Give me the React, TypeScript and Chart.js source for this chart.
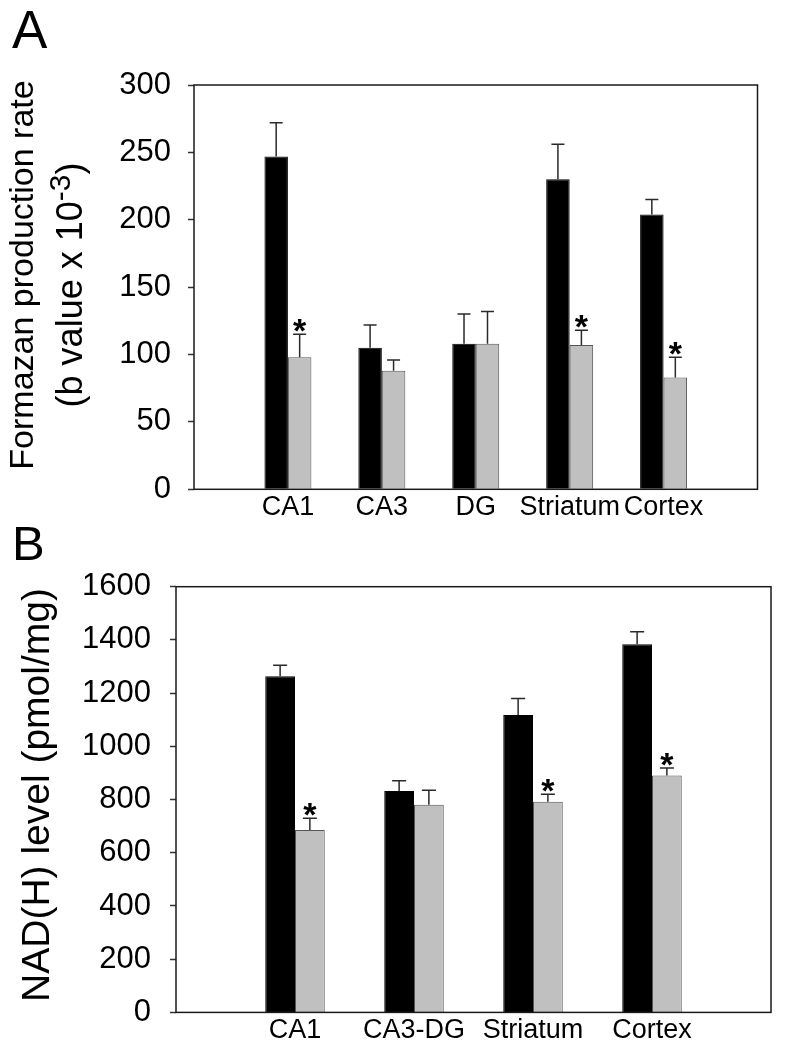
import React, { useEffect, useRef } from 'react';
import { Chart, registerables } from 'chart.js';

Chart.register(...registerables);

const FONT = '"Liberation Sans", Arial, Helvetica, sans-serif';

// ---------- Panel A data ----------
const categoriesA = ['CA1', 'CA3', 'DG', 'Striatum', 'Cortex'];
const controlA = [247, 105, 108, 230, 204];
const controlErrA = [25, 17, 22, 26, 11];
const treatedA = [98, 88, 108, 107, 83];
const treatedErrA = [17, 8, 24, 11, 15];
const sigA = [true, false, false, true, true];
const yTicksA = { max: 300, step: 50 };

// ---------- Panel B data ----------
const categoriesB = ['CA1', 'CA3-DG', 'Striatum', 'Cortex'];
const controlB = [1263, 832, 1118, 1384];
const controlErrB = [42, 39, 62, 47];
const treatedB = [686, 780, 792, 890];
const treatedErrB = [44, 55, 28, 29];
const sigB = [true, false, true, true];
const yTicksB = { max: 1600, step: 200 };

type Seg = { t: string; s: number; dy: number };

type PanelProps = {
  top: number;
  height: number;
  area: { left: number; top: number; right: number; bottom: number };
  categories: string[];
  control: number[];
  controlErr: number[];
  treated: number[];
  treatedErr: number[];
  sig: boolean[];
  yMax: number;
  yStep: number;
  tickFont: number;
  tickPad: number;
  xFont: number;
  xPad: number;
  letter: string;
  letterSize: number;
  letterBase: number;
  titleLines: { x: number; cy: number; segs: Seg[] }[];
  capHalf: number;
};

const W = 785;

function Panel(p: PanelProps) {
  const ref = useRef<HTMLCanvasElement | null>(null);
  useEffect(() => {
    const canvas = ref.current;
    if (!canvas) return;
    const n = p.categories.length;
    const overlay = {
      id: 'overlay',
      afterDatasetsDraw(chart: any) {
        const ctx = chart.ctx as CanvasRenderingContext2D;
        const y = chart.scales.y;
        const vals = [p.control, p.treated];
        const errs = [p.controlErr, p.treatedErr];
        ctx.save();
        ctx.strokeStyle = '#2a2a2a';
        ctx.lineWidth = 1.5;
        for (let di = 0; di < 2; di++) {
          const meta = chart.getDatasetMeta(di);
          meta.data.forEach((el: any, j: number) => {
            const topPx = y.getPixelForValue(vals[di][j] + errs[di][j]);
            ctx.beginPath();
            ctx.moveTo(el.x, el.y);
            ctx.lineTo(el.x, topPx);
            ctx.moveTo(el.x - p.capHalf, topPx);
            ctx.lineTo(el.x + p.capHalf, topPx);
            ctx.stroke();
            if (di === 1 && p.sig[j]) {
              const size = 34;
              ctx.fillStyle = '#000';
              ctx.font = `bold ${size}px ${FONT}`;
              ctx.textAlign = 'center';
              ctx.textBaseline = 'alphabetic';
              ctx.fillText('*', el.x, topPx - 11 + 0.55 * size);
            }
          });
        }
        const a = chart.chartArea;
        ctx.strokeStyle = '#1a1a1a';
        ctx.lineWidth = 1.5;
        ctx.strokeRect(a.left, a.top, a.right - a.left, a.bottom - a.top);
        ctx.restore();
      },
      afterDraw(chart: any) {
        const ctx = chart.ctx as CanvasRenderingContext2D;
        ctx.save();
        ctx.fillStyle = '#000';
        ctx.textBaseline = 'alphabetic';
        ctx.textAlign = 'left';
        ctx.font = `${p.letterSize}px ${FONT}`;
        ctx.fillText(p.letter, 12, p.letterBase);
        for (const line of p.titleLines) {
          ctx.save();
          ctx.translate(line.x, line.cy);
          ctx.rotate(-Math.PI / 2);
          let total = 0;
          for (const s of line.segs) {
            ctx.font = `${s.s}px ${FONT}`;
            total += ctx.measureText(s.t).width;
          }
          let cx = -total / 2;
          for (const s of line.segs) {
            ctx.font = `${s.s}px ${FONT}`;
            ctx.fillText(s.t, cx, s.dy);
            cx += ctx.measureText(s.t).width;
          }
          ctx.restore();
        }
        ctx.restore();
      },
    };

    const chart = new Chart(canvas, {
      type: 'bar',
      data: {
        datasets: [
          {
            label: 'Control',
            data: p.control.map((v, i) => ({ x: i + 1, y: v })),
            backgroundColor: '#000000',
            borderColor: '#000000',
            borderWidth: 1,
          },
          {
            label: 'Treated',
            data: p.treated.map((v, i) => ({ x: i + 1, y: v })),
            backgroundColor: '#c0c0c0',
            borderColor: '#555555',
            borderWidth: 1,
          },
        ],
      },
      options: {
        responsive: false,
        animation: false,
        events: [],
        layout: {
          padding: { left: 0, top: p.area.top, right: W - p.area.right, bottom: 0 },
        },
        plugins: { legend: { display: false }, tooltip: { enabled: false } },
        datasets: { bar: { categoryPercentage: 0.5, barPercentage: 1.0 } },
        scales: {
          x: {
            type: 'linear',
            min: 0,
            max: n + 1,
            offset: false,
            grid: { display: false, drawTicks: false },
            border: { display: false },
            afterBuildTicks: (scale: any) => {
              scale.ticks = p.categories.map((_, i) => ({ value: i + 1 }));
            },
            afterFit: (scale: any) => {
              scale.height = p.height - p.area.bottom;
            },
            ticks: {
              autoSkip: false,
              maxRotation: 0,
              padding: p.xPad,
              color: '#000',
              font: { family: FONT, size: p.xFont },
              callback: (v: any) => p.categories[Math.round(Number(v)) - 1] ?? '',
            },
          },
          y: {
            type: 'linear',
            min: 0,
            max: p.yMax,
            grid: {
              display: true,
              drawOnChartArea: false,
              drawTicks: true,
              tickLength: 6,
              tickColor: '#333',
              tickWidth: 1.5,
            },
            border: { display: false },
            afterFit: (scale: any) => {
              scale.width = p.area.left;
            },
            ticks: {
              stepSize: p.yStep,
              padding: p.tickPad,
              color: '#000',
              font: { family: FONT, size: p.tickFont },
              callback: (v: any) => String(v),
            },
          },
        },
      },
      plugins: [overlay],
    } as any);
    return () => chart.destroy();
  }, []);
  return (
    <canvas
      ref={ref}
      width={W}
      height={p.height}
      style={{ position: 'absolute', left: 0, top: p.top, width: W, height: p.height, display: 'block' }}
    />
  );
}

export default function App() {
  return (
    <div style={{ position: 'absolute', left: 0, top: 0, width: W, height: 1050, background: '#fff' }}>
      <Panel
        top={0}
        height={525}
        area={{ left: 194, top: 85, right: 757.5, bottom: 489.3 }}
        categories={categoriesA}
        control={controlA}
        controlErr={controlErrA}
        treated={treatedA}
        treatedErr={treatedErrA}
        sig={sigA}
        yMax={yTicksA.max}
        yStep={yTicksA.step}
        tickFont={31}
        tickPad={17}
        xFont={27}
        xPad={2}
        letter="A"
        letterSize={53}
        letterBase={48}
        capHalf={6.5}
        titleLines={[
          { x: 33, cy: 275, segs: [{ t: 'Formazan production rate', s: 34, dy: 0 }] },
          {
            x: 82,
            cy: 285,
            segs: [
              { t: '(b value x 10', s: 36, dy: 0 },
              { t: '-3', s: 30, dy: -12 },
              { t: ')', s: 36, dy: 0 },
            ],
          },
        ]}
      />
      <Panel
        top={525}
        height={525}
        area={{ left: 176, top: 61.7, right: 771, bottom: 490.7 }}
        categories={categoriesB}
        control={controlB}
        controlErr={controlErrB}
        treated={treatedB}
        treatedErr={treatedErrB}
        sig={sigB}
        yMax={yTicksB.max}
        yStep={yTicksB.step}
        tickFont={31}
        tickPad={19}
        xFont={27}
        xPad={2}
        letter="B"
        letterSize={49}
        letterBase={35}
        capHalf={7}
        titleLines={[{ x: 49, cy: 270, segs: [{ t: 'NAD(H) level (pmol/mg)', s: 39, dy: 0 }] }]}
      />
    </div>
  );
}
